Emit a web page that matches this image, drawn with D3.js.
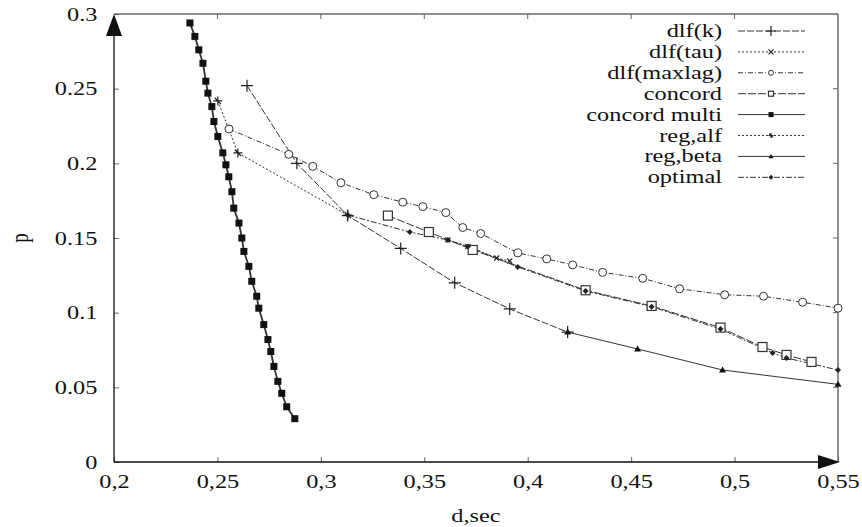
<!DOCTYPE html>
<html lang="en">
  <head>
    <meta charset="utf-8">
    <title>p vs d,sec</title>
    <script src="https://d3js.org/d3.v7.min.js"></script>
    <style>
      body { margin: 0; background: #fff; }
      text { font-family: "Liberation Serif", "Times New Roman", serif; fill: #111; }
    </style>
  </head>

  <body>

  <script>

// values: [d,sec , p]
  var seriesNames = ["dlf(k)", "dlf(tau)", "dlf(maxlag)", "concord",
      "concord multi", "reg,alf", "reg,beta", "optimal"];

  var dlfK = [[0.2643, 0.252], [0.2884, 0.200], [0.3130, 0.165], [0.3386, 0.143],
      [0.3647, 0.120], [0.3913, 0.1025], [0.4193, 0.087]];

  var dlfTau = [[0.3614, 0.1487], [0.3711, 0.1443], [0.3850, 0.1366], [0.3913, 0.1346]];

  var dlfMaxlag = [[0.2556, 0.223], [0.2845, 0.206], [0.2961, 0.198], [0.3097, 0.187],
      [0.3256, 0.179], [0.3396, 0.174], [0.3493, 0.171], [0.3604, 0.167],
      [0.3686, 0.157], [0.3773, 0.153], [0.3952, 0.140], [0.4092, 0.136],
      [0.4217, 0.132], [0.4362, 0.127], [0.4556, 0.123], [0.4734, 0.116],
      [0.4952, 0.112], [0.5140, 0.111], [0.5329, 0.107], [0.5500, 0.103]];

  var concord = [[0.3324, 0.165], [0.3522, 0.154], [0.3734, 0.142], [0.4280, 0.115],
      [0.4599, 0.1045], [0.4932, 0.090], [0.5135, 0.077], [0.5251, 0.0717],
      [0.5372, 0.067]];

  var concordMulti = [[0.2367, 0.294], [0.2391, 0.285], [0.2410, 0.276], [0.2430, 0.267],
      [0.2444, 0.255], [0.2454, 0.247], [0.2473, 0.238], [0.2483, 0.228],
      [0.2502, 0.218], [0.2526, 0.207], [0.2541, 0.199], [0.2555, 0.191],
      [0.2570, 0.181], [0.2579, 0.170], [0.2604, 0.160], [0.2618, 0.150],
      [0.2628, 0.141], [0.2652, 0.131], [0.2666, 0.121], [0.2690, 0.111],
      [0.2700, 0.103], [0.2724, 0.092], [0.2744, 0.082], [0.2758, 0.074],
      [0.2773, 0.064], [0.2792, 0.054], [0.2811, 0.046], [0.2835, 0.037],
      [0.2874, 0.029]];

  var regAlf = [[0.2502, 0.2418], [0.2599, 0.207], [0.3130, 0.1654]];

  var regBeta = [[0.4193, 0.087], [0.4531, 0.0757], [0.4942, 0.0616], [0.5500, 0.052]];

  var optimal = [[0.3130, 0.1654], [0.3430, 0.1540], [0.3614, 0.1487], [0.3711, 0.1443],
      [0.3952, 0.1306], [0.4280, 0.1145], [0.4599, 0.1040], [0.4932, 0.0890],
      [0.5184, 0.0730], [0.5251, 0.0697], [0.5500, 0.0616]];

  var xTicks = [0.2, 0.25, 0.3, 0.35, 0.4, 0.45, 0.5, 0.55];
  var xTickLabels = ["0,2", "0,25", "0,3", "0,35", "0,4", "0,45", "0,5", "0,55"];
  var yTicks = [0, 0.05, 0.1, 0.15, 0.2, 0.25, 0.3];
  var yTickLabels = ["0", "0.05", "0.1", "0.15", "0.2", "0.25", "0.3"];

// layout

  var w = 862;
  var h = 527;
  var margin = {top: 14, right: 24, bottom: 65, left: 114};
  var sx = 1.28;   // scanned text is stretched sideways

  var svg = d3.select("body")
    .append("svg")
      .attr("width", w)
      .attr("height", h);

  svg.append("rect")
      .attr("width", w)
      .attr("height", h)
      .attr("fill", "white");

  var xScale = d3.scaleLinear()
      .domain([0.2, 0.55])
      .range([margin.left, w - margin.right]);

  var yScale = d3.scaleLinear()
      .domain([0, 0.3])
      .range([h - margin.bottom, margin.top]);

  var x0 = xScale(0.2), x1 = xScale(0.55), y0 = yScale(0), y1 = yScale(0.3);

// frame (top and right), inward ticks on all sides

  svg.append("path")
      .attr("d", `M${x0},${y1}H${x1}V${y0}`)
      .attr("fill", "none")
      .attr("stroke", "#222")
      .attr("stroke-width", 1);

  var xAxis = d3.axisBottom(xScale)
      .tickValues(xTicks)
      .tickFormat((d, i) => xTickLabels[i])
      .tickSizeInner(-5)
      .tickSizeOuter(0)
      .tickPadding(22);

  var yAxis = d3.axisLeft(yScale)
      .tickValues(yTicks)
      .tickFormat((d, i) => yTickLabels[i])
      .tickSizeInner(-5)
      .tickSizeOuter(0)
      .tickPadding(13);

  var gx = svg.append("g")
      .attr("transform", `translate(0, ${y0})`)
      .call(xAxis);

  var gy = svg.append("g")
      .attr("transform", `translate(${x0}, 0)`)
      .call(yAxis);

  [gx, gy].forEach(function(g) {
    g.select(".domain").remove();
    g.selectAll(".tick line").attr("stroke", "#666");
    g.selectAll("text")
        .attr("font-size", 19)
        .attr("fill", "#111")
        .attr("font-family", "Liberation Serif, serif");
  });
  gx.selectAll("text").attr("x", 0).attr("dy", "0.2em").attr("transform", `scale(${sx},1)`);
  gy.selectAll("text").attr("x", -13).attr("transform", `scale(${sx},1)`);

  // mirror ticks on top and right
  svg.append("g").selectAll("line")
      .data(xTicks.slice(1, -1))
    .enter().append("line")
      .attr("x1", d => xScale(d)).attr("x2", d => xScale(d))
      .attr("y1", y1).attr("y2", y1 + 5)
      .attr("stroke", "#666");
  svg.append("g").selectAll("line")
      .data(yTicks.slice(1, -1))
    .enter().append("line")
      .attr("y1", d => yScale(d)).attr("y2", d => yScale(d))
      .attr("x1", x1).attr("x2", x1 - 5)
      .attr("stroke", "#666");

  // axis lines with arrow heads
  svg.append("path")
      .attr("d", `M${x0},${y0}H${x1 - 4}M${x0},${y0}V${y1 + 4}`)
      .attr("stroke", "#111")
      .attr("stroke-width", 1.3)
      .attr("fill", "none");
  svg.append("path")
      .attr("d", `M${x0},${y1}L${x0 - 8},${y1 + 22}L${x0 + 8},${y1 + 22}Z`)
      .attr("fill", "#111");
  svg.append("path")
      .attr("d", `M${x1 + 2},${y0}L${x1 - 20},${y0 - 7}L${x1 - 20},${y0 + 7}Z`)
      .attr("fill", "#111");

// axis titles

  svg.append("text")
      .attr("transform", `translate(${(x0 + x1) / 2}, 522) scale(${sx},1)`)
      .attr("text-anchor", "middle")
      .attr("font-size", 19)
      .text("d,sec");

  svg.append("text")
      .attr("transform", `translate(28, ${yScale(0.15)}) rotate(-90) scale(1,${sx})`)
      .attr("text-anchor", "middle")
      .attr("font-size", 19)
      .text("p");

// markers

  function marker(g, type, cx, cy, s) {
    var k = s / 2;
    if (type === "plus") {
      g.append("path")
          .attr("d", `M${cx - k},${cy}H${cx + k}M${cx},${cy - k}V${cy + k}`)
          .attr("stroke", "#222").attr("stroke-width", 1.2);
    } else if (type === "star") {
      g.append("path")
          .attr("d", `M${cx - k},${cy}H${cx + k}M${cx},${cy - k}V${cy + k}` +
                     `M${cx - k * 0.7},${cy - k * 0.7}L${cx + k * 0.7},${cy + k * 0.7}`)
          .attr("stroke", "#222").attr("stroke-width", 1.2);
    } else if (type === "x") {
      g.append("path")
          .attr("d", `M${cx - k},${cy - k}L${cx + k},${cy + k}M${cx - k},${cy + k}L${cx + k},${cy - k}`)
          .attr("stroke", "#222").attr("stroke-width", 1.2);
    } else if (type === "circle") {
      g.append("circle")
          .attr("cx", cx).attr("cy", cy).attr("r", k)
          .attr("fill", "white").attr("stroke", "#333").attr("stroke-width", 1);
    } else if (type === "square") {
      g.append("rect")
          .attr("x", cx - k).attr("y", cy - k).attr("width", s).attr("height", s)
          .attr("fill", "white").attr("stroke", "#333").attr("stroke-width", 1.2);
    } else if (type === "fsquare") {
      g.append("rect")
          .attr("x", cx - k).attr("y", cy - k).attr("width", s).attr("height", s)
          .attr("fill", "#111");
    } else if (type === "ftri") {
      g.append("path")
          .attr("d", `M${cx},${cy - k}L${cx + k},${cy + k * 0.7}L${cx - k},${cy + k * 0.7}Z`)
          .attr("fill", "#111");
    } else if (type === "diamond") {
      g.append("path")
          .attr("d", `M${cx},${cy - k}L${cx + k},${cy}L${cx},${cy + k}L${cx - k},${cy}Z`)
          .attr("fill", "#222");
    }
  }

  var series = [
    {data: dlfK,         mark: "plus",    size: 12, dash: "7,2",      width: 1},
    {data: dlfTau,       mark: "x",       size: 5,  dash: "2,2",      width: 1},
    {data: dlfMaxlag,    mark: "circle",  size: 8,  dash: "5,2,1,2",  width: 1},
    {data: concord,      mark: "square",  size: 9,  dash: "8,2",      width: 1},
    {data: concordMulti, mark: "fsquare", size: 7,  dash: null,       width: 1.8},
    {data: regAlf,       mark: "star",    size: 9,  dash: "2,2",      width: 1},
    {data: regBeta,      mark: "ftri",    size: 7,  dash: null,       width: 1},
    {data: optimal,      mark: "diamond", size: 6,  dash: "6,2,2,2",  width: 1}
  ];

  var line = d3.line()
      .x(d => xScale(d[0]))
      .y(d => yScale(d[1]));

  var plot = svg.append("g").attr("id", "plot");

  series.forEach(function(s) {
    plot.append("path")
        .datum(s.data)
        .attr("d", line)
        .attr("fill", "none")
        .attr("stroke", "#333")
        .attr("stroke-width", s.width)
        .attr("stroke-dasharray", s.dash);
  });

  series.forEach(function(s) {
    var g = plot.append("g");
    s.data.forEach(function(d) {
      marker(g, s.mark, xScale(d[0]), yScale(d[1]), s.size);
    });
  });

// legend

  var legend = svg.append("g").attr("id", "legend");
  var legY0 = 31, legStep = 20.9;

  seriesNames.forEach(function(name, i) {
    var yy = legY0 + i * legStep;
    legend.append("text")
        .attr("transform", `translate(722, ${yy}) scale(${sx},1)`)
        .attr("text-anchor", "end")
        .attr("dy", "0.32em")
        .attr("font-size", 19)
        .text(name);
    legend.append("line")
        .attr("x1", 738).attr("x2", 805)
        .attr("y1", yy).attr("y2", yy)
        .attr("stroke", "#333")
        .attr("stroke-width", 1)
        .attr("stroke-dasharray", series[i].dash);
    marker(legend, series[i].mark, 771, yy, i === 0 ? 10 : 5);
  });

    </script>

  </body>

</html>
